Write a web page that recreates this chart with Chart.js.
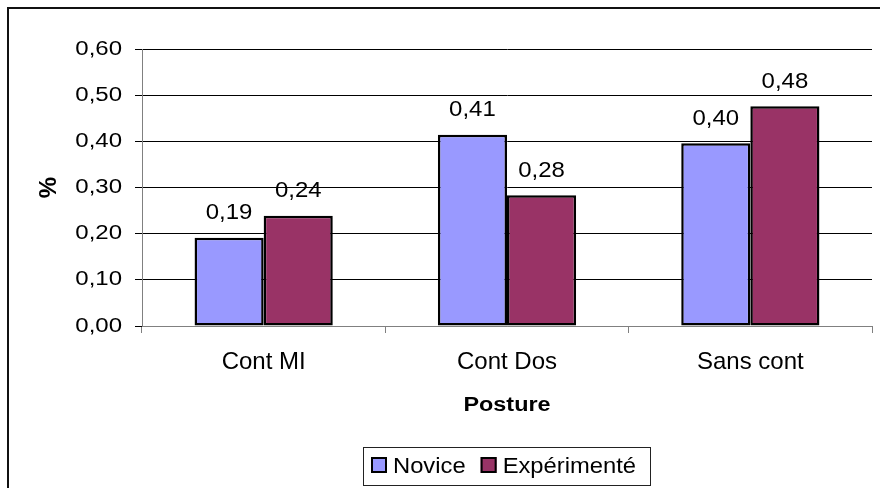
<!DOCTYPE html>
<html>
<head>
<meta charset="utf-8">
<script src="https://cdn.jsdelivr.net/npm/chart.js@4"></script>
<style>
  html, body { margin: 0; padding: 0; background: #fff; }
  #wrap { width: 880px; height: 488px; position: relative; }
</style>
</head>
<body>
<div id="wrap"><canvas id="c" width="880" height="488"></canvas></div>
<script>
// Posture categories and the share measured for each group
const categories = ['Cont MI', 'Cont Dos', 'Sans cont'];
const noviceValues = [0.191, 0.414, 0.396];
const experimenteValues = [0.239, 0.283, 0.476];
const seriesNames = ['Novice', 'Expérimenté'];
const yTickValues = [0, 0.1, 0.2, 0.3, 0.4, 0.5, 0.6];
const xTitle = 'Posture';
const yTitle = '%';

const FONT = '"Liberation Sans", Arial, sans-serif';
const fmt = v => v.toFixed(2).replace('.', ',');

// The text of this chart is drawn a little wider than the font's natural shape
const Y_TICK_SX = 1.2;
const X_TITLE_SX = 1.17;
const VALUE_SX = 1.09;
const LEGEND_SX = 1.08;

Chart.defaults.font.family = FONT;
Chart.defaults.color = '#000';

// Horizontal stretch for the y tick labels and the x axis title
const stretchPlugin = {
  id: 'stretch',
  afterLayout(chart) {
    const y = chart.scales.y, x = chart.scales.x;
    if (!y.$stretched) {
      const origLabels = y.drawLabels;
      y.drawLabels = function (area) {
        const ctx = this.ctx;
        const ax = this.right - this.options.grid.tickLength - this.options.ticks.padding;
        ctx.save();
        ctx.translate(ax, 0); ctx.scale(Y_TICK_SX, 1); ctx.translate(-ax, 0);
        origLabels.call(this, area);
        ctx.restore();
      };
      y.$stretched = true;
    }
    if (!x.$stretched) {
      const origTitle = x.drawTitle;
      x.drawTitle = function () {
        const ctx = this.ctx;
        const cx = (this.left + this.right) / 2;
        ctx.save();
        ctx.translate(cx, 0); ctx.scale(X_TITLE_SX, 1); ctx.translate(-cx, 0);
        origTitle.call(this);
        ctx.restore();
      };
      x.$stretched = true;
    }
  }
};

// Frame around the whole chart
const framePlugin = {
  id: 'frame',
  afterDraw(chart) {
    const ctx = chart.ctx;
    ctx.save();
    ctx.strokeStyle = '#111';
    ctx.lineWidth = 2;
    ctx.strokeRect(8, 8, chart.width, chart.height);
    ctx.restore();
  }
};

// Value labels above each bar
const valueLabels = {
  id: 'valueLabels',
  afterDatasetsDraw(chart) {
    const ctx = chart.ctx;
    ctx.save();
    ctx.font = '22px ' + FONT;
    ctx.fillStyle = '#000';
    ctx.textAlign = 'center';
    ctx.textBaseline = 'alphabetic';
    chart.data.datasets.forEach((ds, i) => {
      chart.getDatasetMeta(i).data.forEach((bar, j) => {
        ctx.save();
        ctx.translate(bar.x, bar.y - 18.5);
        ctx.scale(VALUE_SX, 1);
        ctx.fillText(fmt(ds.data[j]), 0, 0);
        ctx.restore();
      });
    });
    ctx.restore();
  }
};

// Boxed legend under the axis title
const boxedLegend = {
  id: 'boxedLegend',
  afterDraw(chart) {
    const ctx = chart.ctx;
    ctx.save();
    ctx.font = '22px ' + FONT;
    const box = 16, gap = 6, itemGap = 15, padL = 8, padR = 14;
    const items = chart.data.datasets.map(ds => ({
      label: ds.label, color: ds.backgroundColor, w: ctx.measureText(ds.label).width * LEGEND_SX
    }));
    const total = padL + padR + items.reduce((s, it) => s + box + gap + it.w, 0) + itemGap * (items.length - 1);
    const cx = (chart.chartArea.left + chart.chartArea.right) / 2;
    const x0 = Math.round(cx - total / 2);
    const top = 447, h = 38;
    ctx.strokeStyle = '#222';
    ctx.lineWidth = 1;
    ctx.strokeRect(x0 + 0.5, top + 0.5, Math.round(total), h);
    let x = x0 + padL;
    ctx.textBaseline = 'alphabetic';
    ctx.textAlign = 'left';
    items.forEach(it => {
      ctx.fillStyle = it.color;
      ctx.fillRect(x, 457, box, box);
      ctx.strokeStyle = '#000';
      ctx.lineWidth = 2;
      ctx.strokeRect(x + 1, 458, box - 2, box - 2);
      ctx.fillStyle = '#000';
      ctx.save();
      ctx.translate(x + box + gap, 473);
      ctx.scale(LEGEND_SX, 1);
      ctx.fillText(it.label, 0, 0);
      ctx.restore();
      x += box + gap + it.w + itemGap;
    });
    ctx.restore();
  }
};

new Chart(document.getElementById('c'), {
  type: 'bar',
  data: {
    labels: categories,
    datasets: [
      { label: seriesNames[0], data: noviceValues, backgroundColor: '#9999FF' },
      { label: seriesNames[1], data: experimenteValues, backgroundColor: '#993366' }
    ]
  },
  options: {
    responsive: false,
    animation: false,
    devicePixelRatio: 1,
    layout: { padding: { left: 8, right: 8, top: 49, bottom: 67 } },
    datasets: {
      bar: {
        borderColor: '#000',
        borderWidth: 2.5,
        borderSkipped: false,
        categoryPercentage: 0.568,
        barPercentage: 1
      }
    },
    plugins: {
      legend: { display: false },
      tooltip: { enabled: false }
    },
    scales: {
      x: {
        offset: true,
        grid: { display: true, drawOnChartArea: false, offset: true, tickLength: 7, color: '#808080' },
        border: { color: '#808080', width: 1 },
        ticks: { padding: 15, font: { size: 24 }, color: '#000' },
        title: { display: true, text: xTitle, font: { size: 20, weight: 'bold' }, color: '#000', padding: { top: 0, bottom: 4 } },
        afterFit(scale) { scale.height = 95; }
      },
      y: {
        min: 0,
        max: 0.6,
        afterBuildTicks(scale) { scale.ticks = yTickValues.map(v => ({ value: v })); },
        grid: {
          tickLength: 7,
          color: ctx => (ctx.tick && ctx.tick.value === 0 ? '#808080' : '#000'),
          tickColor: '#000'
        },
        border: { color: '#808080', width: 1 },
        ticks: { padding: 13, font: { size: 20 }, color: '#000', callback: v => fmt(v) },
        title: { display: true, text: yTitle, font: { size: 24, weight: 'bold' }, color: '#000', padding: { top: 27, bottom: 0 } },
        afterFit(scale) { scale.width = 134; }
      }
    }
  },
  plugins: [stretchPlugin, framePlugin, valueLabels, boxedLegend]
});
</script>
</body>
</html>
